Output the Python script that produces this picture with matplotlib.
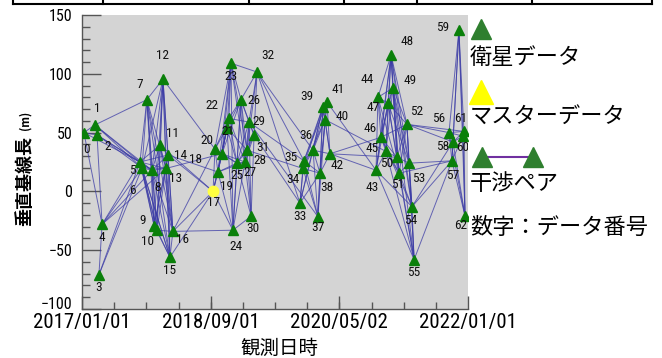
import matplotlib
matplotlib.use("Agg")
import matplotlib.pyplot as plt
import matplotlib.dates as mdates
import matplotlib.transforms as mtransforms
import numpy as np
import pandas as pd

# observation dates of the 63 scenes (index = data number)
dates = ['2017-01-10', '2017-03-03', '2017-03-13', '2017-03-22', '2017-04-06',
         '2017-10-02', '2017-10-12', '2017-11-04', '2017-11-28', '2017-12-08',
         '2017-12-22', '2018-01-05', '2018-01-19', '2018-02-02', '2018-02-12',
         '2018-02-21', '2018-03-07', '2018-09-13', '2018-09-22', '2018-10-06',
         '2018-10-25', '2018-11-18', '2018-11-27', '2018-12-07', '2018-12-16',
         '2019-01-04', '2019-01-23', '2019-02-11', '2019-02-21', '2019-03-02',
         '2019-03-12', '2019-03-26', '2019-04-09', '2019-10-29', '2019-11-12',
         '2019-11-17', '2019-12-30', '2020-01-22', '2020-02-01', '2020-02-15',
         '2020-02-25', '2020-03-05', '2020-03-19', '2020-10-23', '2020-11-01',
         '2020-12-09', '2020-11-15', '2020-12-19', '2021-01-02', '2021-01-11',
         '2021-01-30', '2021-02-09', '2021-03-18', '2021-03-28', '2021-04-11',
         '2021-04-21', '2021-10-03', '2021-10-17', '2021-10-22', '2021-11-19',
         '2021-12-08', '2021-12-13', '2021-12-18']

# perpendicular baseline (m)
baseline = [50, 56.5, 48, -71, -28, 25, 20, 78, 18, -29,
            -33, 39.5, 95.5, 19.5, 31, -56, -34, 0, 36, 16.5,
            32, 54, 62, 109, -33, 24, 78, 25, 35, 59,
            -21, 48, 101.5, -10, 19.5, 26, 35, -21.5, 15.5, 72,
            61, 76, 32, 18, 80, 34, 46, 75, 116, 88,
            29, 15.5, 57, 24, -13, -58, 50, 26, 42, 137,
            47, 51, -21]

master = 17

# interferometric pairs: data number -> later data numbers
pairs = {
    0: [1, 2, 4, 5], 1: [2, 5, 6, 7, 8], 2: [4, 5, 6, 8], 3: [4, 5, 6],
    4: [5, 6, 8, 13], 5: [6, 7, 8, 9, 10, 11, 13, 14, 15],
    6: [7, 8, 9, 10, 12, 13, 15], 7: [8, 9, 10, 12, 13, 15, 16],
    8: [9, 10, 11, 12, 13, 14, 15, 16], 9: [10, 12, 13, 14, 15],
    10: [11, 12, 13, 15, 16], 11: [12, 13, 14, 16, 17],
    12: [13, 14, 15, 16, 18], 13: [14, 15, 16, 20], 14: [15, 16, 17, 19],
    15: [16, 17], 16: [17, 18, 24],
    17: [18, 19, 20, 21, 24], 18: [19, 20, 21, 22, 23, 25],
    19: [20, 21, 22, 23, 24, 25, 27], 20: [21, 22, 23, 25, 26, 27],
    21: [22, 23, 24, 25, 26, 28], 22: [23, 25, 26, 27, 29],
    23: [24, 26, 27, 28, 32], 24: [25, 26, 27, 30],
    25: [26, 27, 28, 29, 30, 31], 26: [27, 28, 29, 31, 32],
    27: [28, 29, 30, 31], 28: [29, 30, 31, 32, 34], 29: [30, 31, 32, 35, 37],
    30: [31], 31: [32, 33], 32: [33, 35, 36],
    33: [34, 35, 36, 38, 39], 34: [35, 36, 37, 38, 39, 40],
    35: [36, 37, 38, 39, 41], 36: [37, 38, 39, 40, 41, 42],
    37: [38, 39, 40], 38: [39, 40, 41, 42], 39: [40, 41, 42],
    40: [41, 42, 45], 41: [42, 43], 42: [43, 46, 50],
    43: [44, 45, 46, 47, 48, 54, 55], 44: [45, 46, 47, 48, 49, 51],
    45: [46, 47, 48, 49, 50, 51, 55], 46: [47, 48, 49, 50, 51, 52, 54],
    47: [48, 49, 50, 51, 52, 53], 48: [49, 50, 51, 52, 53, 54],
    49: [50, 51, 52, 53, 54, 55], 50: [51, 52, 53, 55],
    51: [52, 53, 54, 55, 57], 52: [53, 54, 55, 56, 58, 61],
    53: [54, 55, 57], 54: [55, 57, 58], 55: [57],
    56: [57, 58, 59, 60, 61, 62], 57: [58, 59, 60, 62],
    58: [59, 60, 61, 62], 59: [60, 61, 62], 60: [61, 62], 61: [62],
}

xtick_dates = ['2017-01-01', '2018-09-01', '2020-05-02', '2022-01-01']
xtick_labels = ['2017/01/01', '2018/09/01', '2020/05/02', '2022/01/01']
ytick_values = [-100, -50, 0, 50, 100, 150]

# where each number label sits relative to its marker (pixels, right / down)
label_offsets = [(3, 17), (2, -16), (11, 12), (0, 13), (0, 13), (-8, 9), (-10, 23),
                 (-7, -15), (6, 17), (-11, -5), (-10, 11), (12, -11), (0, -24),
                 (10, 10), (13, 1), (0, 13), (10, 8), (0, 11), (-19, 10), (9, 15),
                 (-15, -13), (1, 4), (-17, -13), (0, 13), (3, 16), (0, 12), (13, 1),
                 (5, 11), (13, 10), (10, -1), (2, 12), (9, 13), (11, -17), (0, 13),
                 (-10, 11), (-13, -3), (-7, -15), (0, 11), (7, 14), (-16, -10),
                 (17, -3), (11, -13), (7, 12), (-4, 17), (-11, -18), (-14, -3),
                 (-11, -9), (-15, 4), (16, -13), (17, -7), (-10, 6), (-1, 11),
                 (10, -13), (10, 15), (-1, 14), (0, 13), (-10, -14), (1, 15),
                 (-10, 4), (-16, -3), (0, 11), (-3, -13), (-4, 9)]

num_font = ['Roboto Condensed', 'Roboto', 'DejaVu Sans']
jp_font = ['Noto Sans CJK JP', 'DejaVu Sans']

W, H = 662, 358
fig = plt.figure(figsize=(W / 100, H / 100), dpi=100)
ax = fig.add_axes([82 / W, 1 - 309 / H, 386 / W, 294 / H])
ax.set_facecolor('#d4d4d4')

x = mdates.date2num(pd.to_datetime(dates))
y = np.array(baseline)

for i, js in pairs.items():
    for j in js:
        ax.plot([x[i], x[j]], [y[i], y[j]], color='#3c3ca6', lw=0.7, alpha=0.75, zorder=2)

sat = [k for k in range(len(dates)) if k != master]
ax.plot(x[sat], y[sat], '^', color='#0a800a', ms=7.5, ls='none', zorder=3)
ax.plot(x[master], y[master], 'o', color='#ffff40', ms=7.5, ls='none', zorder=4)

for k in range(len(dates)):
    dx, dy = label_offsets[k]
    ax.annotate(str(k), (x[k], y[k]), xytext=(dx, -dy), textcoords='offset pixels',
                ha='center', va='center', fontsize=9.5, family=num_font,
                color='#111111', zorder=5, clip_on=True)

x0, x1 = mdates.date2num(pd.to_datetime([xtick_dates[0], xtick_dates[-1]]))
ax.set_xlim(x0, x1)
ax.set_ylim(-100, 150)
ax.set_xticks(mdates.date2num(pd.to_datetime(xtick_dates)))
ax.set_xticklabels(xtick_labels, family=num_font, fontsize=15)
ax.set_xticks(np.linspace(x0, x1, 13), minor=True)
ax.set_yticks(ytick_values)
ax.set_yticklabels([str(v).replace('-', '\u2212') for v in ytick_values], family=num_font, fontsize=11.5)
ax.set_yticks(np.arange(-100, 151, 10), minor=True)

ax.tick_params(axis='y', which='major', direction='in', length=13.5, width=1, color='#555555', pad=7)
ax.tick_params(axis='y', which='minor', direction='in', length=5.5, width=1, color='#555555')
ax.tick_params(axis='x', which='major', direction='in', length=9.5, width=1, color='#555555', pad=3)
ax.tick_params(axis='x', which='minor', direction='in', length=5, width=1, color='#555555')
for s in ['top', 'right']:
    ax.spines[s].set_visible(False)
for s in ['left', 'bottom']:
    ax.spines[s].set_color('#555555')
    ax.spines[s].set_linewidth(1)

# lift the bottom y label a little so it clears the first date
lbl = ax.get_yticklabels()[0]
lbl.set_transform(lbl.get_transform() + mtransforms.ScaledTranslation(0, 4 / 72, fig.dpi_scale_trans))

# axis titles
fig.text(279 / W, 1 - 348 / H, '観測日時', family=jp_font, fontsize=14, ha='center', va='center')
fig.text(25 / W, 1 - 181 / H, '垂直基線長', family=jp_font, fontsize=13, fontweight='bold',
         rotation=90, ha='center', va='center')
fig.text(25 / W, 1 - 120 / H, '(m)', family=jp_font, fontsize=8, fontweight='bold',
         rotation=90, ha='center', va='center')

# legend and top frame drawn in pixel space
ov = fig.add_axes([0, 0, 1, 1])
ov.set_xlim(0, W)
ov.set_ylim(H, 0)
ov.axis('off')

ov.plot([481], [29], '^', color='#2f7f2f', ms=14.5)
ov.text(470, 57, '衛星データ', family=jp_font, fontsize=16, va='center')
ov.plot([481], [92], '^', color='#ffff00', ms=17)
ov.text(470, 117, 'マスターデータ', family=jp_font, fontsize=16, va='center')
ov.plot([488, 528], [157, 157], color='#7030a0', lw=1.5)
ov.plot([482, 533], [157, 157], '^', color='#2f7f2f', ms=14.5, ls='none')
ov.text(470, 184, '干渉ペア', family=jp_font, fontsize=16, va='center')
ov.text(470, 227, '数字：データ番号', family=jp_font, fontsize=16, va='center')

ov.plot([13, 652], [4, 4], color='black', lw=1.5)
for xv in [13, 103, 249, 344, 417, 532, 652]:
    ov.plot([xv, xv], [0, 4], color='black', lw=1.5)

fig.savefig('out.png', dpi=100)
